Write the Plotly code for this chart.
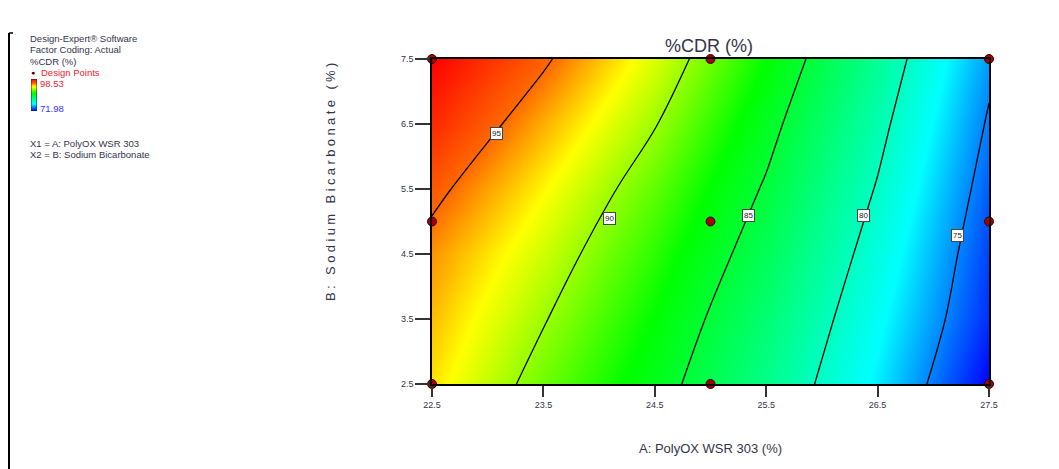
import base64
import plotly.graph_objects as go

# ---------------- data ----------------
polyox = [22.5, 23.5, 24.5, 25.5, 26.5, 27.5]          # A: PolyOX WSR 303 (%)
bicarb = [2.5, 3.5, 4.5, 5.5, 6.5, 7.5]                # B: Sodium Bicarbonate (%)
# %CDR response estimated at each grid node (rows = bicarb, cols = polyox)
cdr = [
    [92.70, 89.14, 85.96, 82.00, 77.40, 71.98],   # B = 2.5
    [93.40, 90.14, 86.77, 82.85, 78.15, 72.97],   # B = 3.5
    [94.20, 91.14, 87.72, 83.79, 78.96, 73.46],   # B = 4.5
    [95.56, 92.29, 88.80, 84.75, 79.83, 74.08],   # B = 5.5
    [97.20, 93.71, 90.11, 85.75, 80.68, 74.76],   # B = 6.5
    [98.53, 95.32, 91.40, 86.88, 81.61, 75.51],   # B = 7.5
]
cdr_min, cdr_max = 71.98, 98.53
contour_levels = [75, 80, 85, 90, 95]

design_A = [22.5, 22.5, 22.5, 25.0, 25.0, 25.0, 27.5, 27.5, 27.5]
design_B = [2.5, 5.0, 7.5, 2.5, 5.0, 7.5, 2.5, 5.0, 7.5]

label_text = ["95", "90", "85", "80", "75"]
label_A = [23.08, 24.09, 25.34, 26.37, 27.22]
label_B = [6.36, 5.04, 5.10, 5.10, 4.78]

x_ticks = [22.5, 23.5, 24.5, 25.5, 26.5, 27.5]
y_ticks = [2.5, 3.5, 4.5, 5.5, 6.5, 7.5]

# ---------------- layout geometry (pixels) ----------------
W, H = 1059, 469
L, R, T, B = 432, 989, 59, 384
PW, PH = R - L, B - T


def px(xp):
    return (xp - L) / PW


def py(yp):
    return (B - yp) / PH


rainbow = [
    [0.0, "rgb(0,0,255)"],
    [0.22, "rgb(0,255,255)"],
    [0.56, "rgb(0,255,0)"],
    [0.76, "rgb(255,255,0)"],
    [0.867, "rgb(255,105,0)"],
    [1.0, "rgb(255,0,0)"],
]

TXT = "#34344a"
FONT = "Liberation Sans, Arial, sans-serif"

fig = go.Figure()

fig.add_trace(go.Heatmap(
    x=polyox, y=bicarb, z=cdr, zsmooth="best",
    colorscale=rainbow, zmin=cdr_min, zmax=cdr_max,
    hoverinfo="skip", showscale=False,
))

fig.add_trace(go.Contour(
    x=polyox, y=bicarb, z=cdr,
    contours=dict(start=contour_levels[0], end=contour_levels[-1],
                  size=5, coloring="none", showlabels=False),
    line=dict(color="black", width=1.3, smoothing=1.0),
    showscale=False, hoverinfo="skip",
))

fig.add_trace(go.Scatter(
    x=design_A, y=design_B, mode="markers",
    marker=dict(symbol="circle", size=9, color="#a30000",
                line=dict(color="#3a0000", width=1)),
    cliponaxis=False, hoverinfo="skip", showlegend=False,
))

annotations = []
for t, a, b in zip(label_text, label_A, label_B):
    annotations.append(dict(
        x=a, y=b, xref="x", yref="y", text=t, showarrow=False,
        xanchor="center", yanchor="middle",
        font=dict(size=8, color="#222", family=FONT),
        bgcolor="white", bordercolor="#444", borderwidth=1, borderpad=1,
    ))


def txt(s, xp, yp, size, color=TXT, xanchor="center", angle=0):
    annotations.append(dict(x=px(xp), y=py(yp), xref="paper", yref="paper",
                            text=s, showarrow=False, textangle=angle,
                            xanchor=xanchor, yanchor="middle",
                            font=dict(size=size, color=color, family=FONT)))


# chart title and axis titles
txt("%CDR (%)", 709, 46, 18)
txt("A: PolyOX WSR 303 (%)", 710, 448, 13)
txt('<span style="letter-spacing:3.4px">B: Sodium Bicarbonate (%)</span>',
    330, 180, 13, angle=-90)

# top-left legend block
txt("Design-Expert® Software", 28, 38, 9.5, xanchor="left")
txt("Factor Coding: Actual", 28, 49, 9.5, xanchor="left")
txt("%CDR (%)", 28, 61, 9.5, xanchor="left")
txt("●", 29, 72, 7, color="#500000", xanchor="left")
txt("Design Points", 39, 72, 9.5, color="#ee2233", xanchor="left")
txt(f"{cdr_max:.2f}", 38, 84, 9.5, color="#ee2233", xanchor="left")
txt(f"{cdr_min:.2f}", 38, 108, 9.5, color="#3333ff", xanchor="left")
txt("X1 = A: PolyOX WSR 303", 28, 143, 9.5, xanchor="left")
txt("X2 = B: Sodium Bicarbonate", 28, 154, 9.5, xanchor="left")

# legend colour ramp as a small SVG gradient built from the colour scale
stops = "".join(
    f'<stop offset="{s}" stop-color="{c}"/>' for s, c in rainbow
)
svg = (
    '<svg xmlns="http://www.w3.org/2000/svg" width="6" height="32" '
    'preserveAspectRatio="none" viewBox="0 0 6 32">'
    '<defs><linearGradient id="g" x1="0" y1="1" x2="0" y2="0">'
    f'{stops}</linearGradient></defs>'
    '<rect x="0" y="0" width="6" height="32" fill="url(#g)" '
    'stroke="#222" stroke-width="1"/></svg>'
)
ramp_src = "data:image/svg+xml;base64," + base64.b64encode(svg.encode()).decode()

images = [dict(source=ramp_src, xref="paper", yref="paper",
               x=px(31), y=py(79), sizex=6 / PW, sizey=32 / PH,
               xanchor="left", yanchor="top", sizing="stretch", layer="above")]

shapes = [
    dict(type="line", xref="paper", yref="paper",
         x0=px(9), x1=px(9), y0=py(33), y1=py(469),
         line=dict(color="black", width=2)),
    dict(type="line", xref="paper", yref="paper",
         x0=px(9), x1=px(13), y0=py(33), y1=py(33),
         line=dict(color="black", width=1.5)),
]

axis_common = dict(ticks="outside", tickwidth=2, tickcolor="#333",
                   showline=True, linecolor="black", linewidth=1.5, mirror=True,
                   showgrid=False, zeroline=False,
                   tickfont=dict(size=9, color=TXT, family=FONT))

fig.update_layout(
    width=W, height=H,
    margin=dict(l=L, r=W - R, t=T, b=H - B, pad=0, autoexpand=False),
    paper_bgcolor="white", plot_bgcolor="white",
    showlegend=False,
    annotations=annotations, shapes=shapes, images=images,
    font=dict(family=FONT, color=TXT),
    xaxis=dict(range=[22.5, 27.5], tickvals=x_ticks,
               ticktext=[f"{v:.1f}" for v in x_ticks], ticklen=11,
               **axis_common),
    yaxis=dict(range=[2.5, 7.5], tickvals=y_ticks,
               ticktext=[f"{v:.1f}" for v in y_ticks], ticklen=15,
               **axis_common),
)

fig.write_html("out.html")
